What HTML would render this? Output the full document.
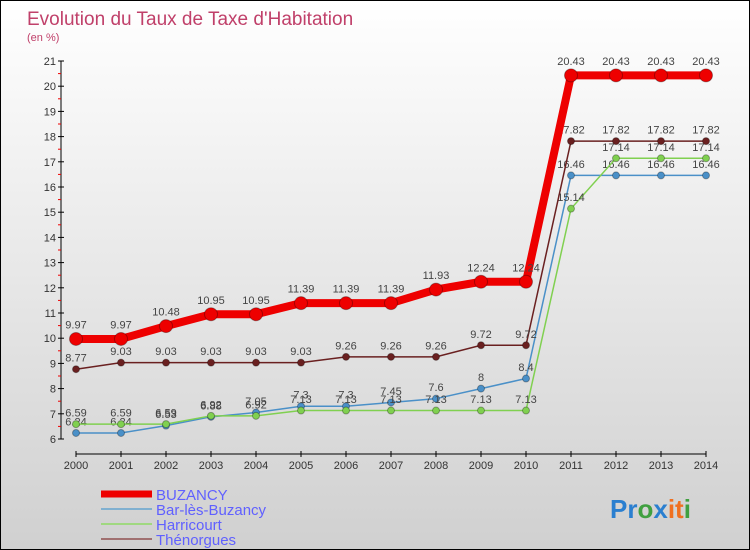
<!DOCTYPE html>
<html><head><meta charset="utf-8"><style>
body{margin:0}
#c{width:748px;height:548px;border:1px solid #000;background:linear-gradient(#fff,#d0d0d0);position:relative;overflow:hidden;font-family:"Liberation Sans",sans-serif}
</style></head><body>
<div id="c">
<svg id="s" width="748" height="548" style="position:absolute;left:0;top:0">
<text x="26" y="24" font-size="19" fill="#c0406a">Evolution du Taux de Taxe d'Habitation</text>
<text x="26" y="40" font-size="11" fill="#c0406a">(en %)</text>
<g id="g"></g>
<text x="609" y="517" font-size="26" font-weight="bold"><tspan fill="#2a7fd0">Pr</tspan><tspan fill="#40a040">o</tspan><tspan fill="#2a7fd0">x</tspan><tspan fill="#f07020">it</tspan><tspan fill="#40a040">i</tspan></text>
</svg>
</div>
<script>
const years=[2000,2001,2002,2003,2004,2005,2006,2007,2008,2009,2010,2011,2012,2013,2014];
const buzancy=[9.97,9.97,10.48,10.95,10.95,11.39,11.39,11.39,11.93,12.24,12.24,20.43,20.43,20.43,20.43];
const bar=[6.24,6.24,6.53,6.88,7.05,7.3,7.3,7.45,7.6,8,8.4,16.46,16.46,16.46,16.46];
const harricourt=[6.59,6.59,6.59,6.92,6.92,7.13,7.13,7.13,7.13,7.13,7.13,15.14,17.14,17.14,17.14];
const thenorgues=[8.77,9.03,9.03,9.03,9.03,9.03,9.26,9.26,9.26,9.72,9.72,17.82,17.82,17.82,17.82];
const yTicks=[6,7,8,9,10,11,12,13,14,15,16,17,18,19,20,21];
const NS='http://www.w3.org/2000/svg';
const g=document.getElementById('g');
const X=i=>75+i*45, Y=v=>438-(v-6)*25.2;
function mk(t,a,p){const e=document.createElementNS(NS,t);for(const k in a)e.setAttribute(k,a[k]);(p||g).appendChild(e);return e;}
let e=mk('line',{x1:60,y1:Y(21),x2:60,y2:Y(6),stroke:'#000','stroke-width':1});

e=mk('line',{x1:75,y1:453,x2:705,y2:453,stroke:'#000','stroke-width':1});

yTicks.forEach(v=>{mk('line',{x1:57,y1:Y(v),x2:63,y2:Y(v),stroke:'#000'});
 if(v<21)mk('line',{x1:57,y1:Y(v+0.5),x2:60,y2:Y(v+0.5),stroke:'#e00'});
 const t=mk('text',{x:55,y:Y(v)+4,'font-size':11,fill:'#333','text-anchor':'end'});t.textContent=v;
 });
years.forEach((yr,i)=>{mk('line',{x1:X(i),y1:450,x2:X(i),y2:456,stroke:'#000'});
 const t=mk('text',{x:X(i),y:468,'font-size':11,fill:'#333','text-anchor':'middle'});t.textContent=yr;
 });
function series(d,col,w,r,name){
 const p=mk('polyline',{points:d.map((v,i)=>X(i)+','+Y(v)).join(' '),fill:'none',stroke:col,'stroke-width':w});
 
 d.forEach((v,i)=>{const c=mk('circle',{cx:X(i),cy:Y(v),r:r,fill:col,stroke:'rgba(0,0,0,0.3)'});
  
  const t=mk('text',{x:X(i),y:Y(v)-r-4,'font-size':11,fill:'#444','text-anchor':'middle'});t.textContent=v;
  });
}
series(bar,'#4a90c8',1.5,3.5,'bar-les-buzancy');
series(harricourt,'#80d050',1.5,3.5,'harricourt');
series(thenorgues,'#6a2020',1.5,3.5,'thenorgues');
series(buzancy,'#ee0000',8,6.5,'buzancy');
const leg=[['BUZANCY','#ee0000',7],['Bar-lès-Buzancy','#80b0d0',2],['Harricourt','#a0d880',2],['Thénorgues','#a07070',2]];
leg.forEach((l,i)=>{const y=493+i*15;
 const ln=mk('line',{x1:100,y1:y,x2:151,y2:y,stroke:l[1],'stroke-width':l[2]});
 
 const t=mk('text',{x:155,y:y+6,'font-size':15,fill:'#6060ff'});t.textContent=l[0];
 });
</script>
</body></html>
